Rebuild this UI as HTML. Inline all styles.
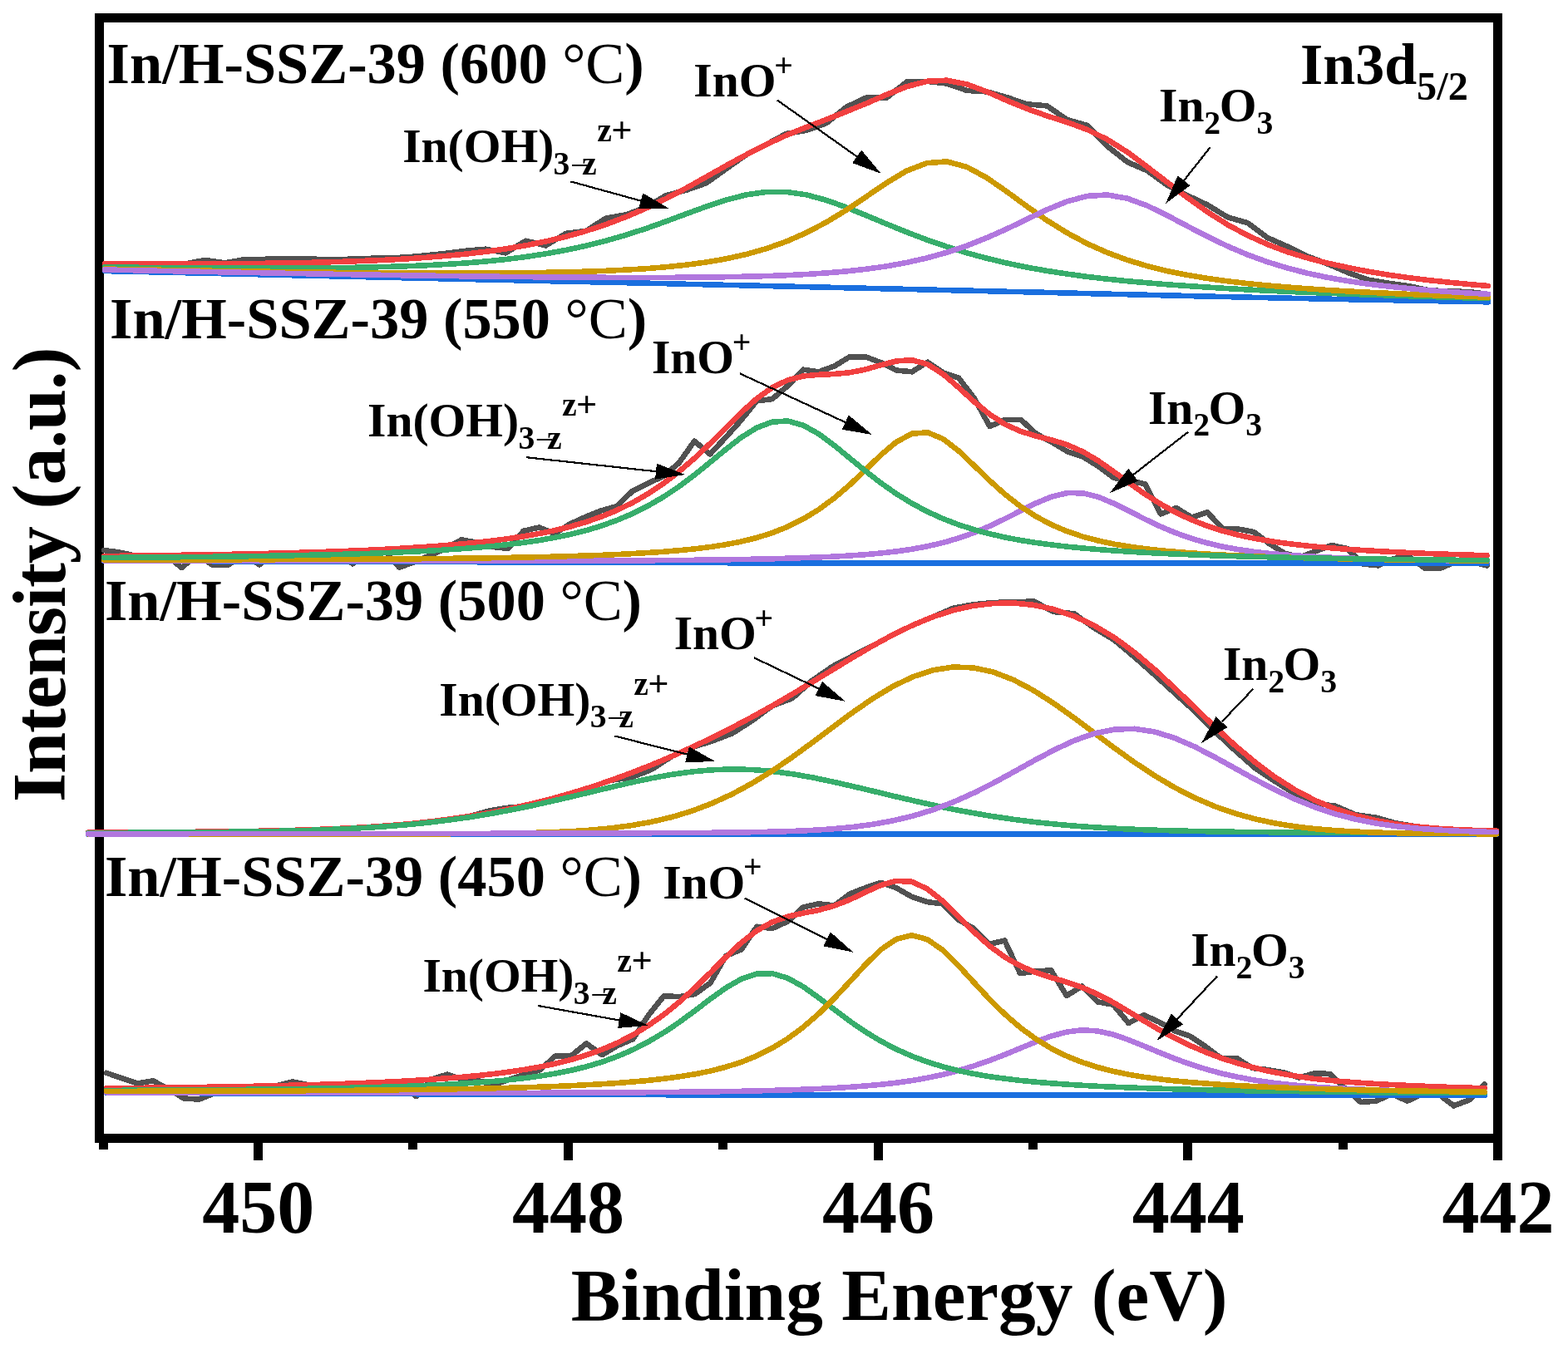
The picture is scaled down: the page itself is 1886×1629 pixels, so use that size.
<!DOCTYPE html>
<html><head><meta charset="utf-8"><title>In3d XPS</title>
<style>html,body{margin:0;padding:0;background:#fff}body{width:1886px;height:1629px;overflow:hidden}svg{display:block}</style>
</head><body>
<svg width="1886" height="1629" viewBox="0 0 1886 1629">
<rect x="0" y="0" width="1886" height="1629" fill="#fff"/>
<rect x="119.5" y="21.5" width="1682" height="1348" fill="none" stroke="#000" stroke-width="11"/>
<rect x="119" y="1369" width="11" height="14" fill="#000" shape-rendering="crispEdges"/>
<rect x="305" y="1369" width="11" height="27" fill="#000" shape-rendering="crispEdges"/>
<rect x="491" y="1369" width="11" height="14" fill="#000" shape-rendering="crispEdges"/>
<rect x="678" y="1369" width="11" height="27" fill="#000" shape-rendering="crispEdges"/>
<rect x="864" y="1369" width="11" height="14" fill="#000" shape-rendering="crispEdges"/>
<rect x="1051" y="1369" width="11" height="27" fill="#000" shape-rendering="crispEdges"/>
<rect x="1237" y="1369" width="11" height="14" fill="#000" shape-rendering="crispEdges"/>
<rect x="1423" y="1369" width="11" height="27" fill="#000" shape-rendering="crispEdges"/>
<rect x="1610" y="1369" width="11" height="14" fill="#000" shape-rendering="crispEdges"/>
<rect x="1796" y="1369" width="11" height="27" fill="#000" shape-rendering="crispEdges"/>
<path d="M126.0,317.4 L150.1,317.5 L174.2,317.6 L198.3,317.6 L222.5,317.5 L246.6,312.9 L270.7,316.3 L294.8,312.1 L318.9,311.8 L343.0,311.5 L367.2,311.0 L391.3,312.4 L415.4,311.9 L439.5,311.0 L463.6,310.3 L487.7,309.6 L511.9,307.4 L536.0,304.8 L560.1,301.8 L584.2,299.7 L608.3,304.4 L632.4,289.7 L656.6,295.4 L680.7,280.9 L704.8,277.9 L728.9,262.5 L753.0,258.4 L777.1,249.3 L801.2,235.1 L825.4,228.8 L849.5,220.3 L873.6,203.0 L897.7,186.1 L921.8,173.7 L945.9,160.8 L970.1,156.8 L994.2,148.1 L1018.3,128.6 L1042.4,117.3 L1066.5,117.6 L1090.6,98.6 L1114.8,97.8 L1138.9,100.5 L1163.0,108.9 L1187.1,110.4 L1211.2,117.2 L1235.3,125.3 L1259.4,127.4 L1283.6,144.1 L1307.7,150.9 L1331.8,175.8 L1355.9,194.9 L1380.0,205.4 L1404.1,222.9 L1428.3,235.3 L1452.4,246.5 L1476.5,261.3 L1500.6,268.2 L1524.7,286.1 L1548.8,296.7 L1573.0,308.5 L1597.1,317.6 L1621.2,327.9 L1645.3,336.6 L1669.4,340.6 L1693.5,344.0 L1717.7,349.0 L1741.8,350.6 L1765.9,350.9 L1790.0,354.0" fill="none" stroke="#515151" stroke-width="6.6" stroke-linejoin="round" stroke-linecap="round" shape-rendering="crispEdges"/>
<path d="M126.0,317.4 L150.1,317.5 L174.2,317.6 L198.3,317.6 L222.5,317.5 L246.6,317.5 L270.7,317.3 L294.8,317.1 L318.9,316.8 L343.0,316.5 L367.2,316.0 L391.3,315.4 L415.4,314.7 L439.5,313.8 L463.6,312.8 L487.7,311.5 L511.9,309.9 L536.0,307.9 L560.1,305.6 L584.2,302.8 L608.3,299.4 L632.4,295.3 L656.6,290.4 L680.7,284.7 L704.8,277.9 L728.9,270.0 L753.0,260.9 L777.1,250.5 L801.2,238.9 L825.4,226.3 L849.5,212.8 L873.6,199.2 L897.7,186.1 L921.8,173.7 L945.9,162.7 L970.1,153.0 L994.2,143.7 L1018.3,134.1 L1042.4,124.3 L1066.5,113.8 L1090.6,104.2 L1114.8,97.8 L1138.9,96.7 L1163.0,101.4 L1187.1,110.4 L1211.2,121.0 L1235.3,130.9 L1259.4,139.4 L1283.6,147.1 L1307.7,155.9 L1331.8,167.8 L1355.9,182.9 L1380.0,200.9 L1404.1,219.4 L1428.3,237.8 L1452.4,255.0 L1476.5,270.3 L1500.6,283.2 L1524.7,294.1 L1548.8,303.2 L1573.0,310.5 L1597.1,316.6 L1621.2,321.9 L1645.3,326.6 L1669.4,330.6 L1693.5,334.0 L1717.7,337.0 L1741.8,339.6 L1765.9,341.9 L1790.0,344.0" fill="none" stroke="#F14040" stroke-width="6.6" stroke-linejoin="round" stroke-linecap="round" shape-rendering="crispEdges"/>
<path d="M126.0,326.0 L150.1,326.6 L174.2,327.1 L198.3,327.7 L222.5,328.2 L246.6,328.8 L270.7,329.3 L294.8,329.9 L318.9,330.4 L343.0,331.0 L367.2,331.6 L391.3,332.1 L415.4,332.7 L439.5,333.2 L463.6,333.8 L487.7,334.3 L511.9,334.9 L536.0,335.4 L560.1,335.9 L584.2,336.5 L608.3,337.0 L632.4,337.5 L656.6,338.1 L680.7,338.6 L704.8,339.1 L728.9,339.6 L753.0,340.2 L777.1,340.7 L801.2,341.2 L825.4,341.8 L849.5,342.3 L873.6,342.9 L897.7,343.4 L921.8,344.0 L945.9,344.6 L970.1,345.1 L994.2,345.7 L1018.3,346.3 L1042.4,346.8 L1066.5,347.4 L1090.6,347.9 L1114.8,348.5 L1138.9,349.1 L1163.0,349.6 L1187.1,350.2 L1211.2,350.8 L1235.3,351.3 L1259.4,351.9 L1283.6,352.5 L1307.7,353.1 L1331.8,353.7 L1355.9,354.2 L1380.0,354.8 L1404.1,355.4 L1428.3,356.0 L1452.4,356.6 L1476.5,357.1 L1500.6,357.7 L1524.7,358.2 L1548.8,358.7 L1573.0,359.2 L1597.1,359.7 L1621.2,360.2 L1645.3,360.6 L1669.4,361.1 L1693.5,361.5 L1717.7,362.0 L1741.8,362.4 L1765.9,362.9 L1790.0,363.3" fill="none" stroke="#1A6FDF" stroke-width="6.6" stroke-linejoin="round" stroke-linecap="round" shape-rendering="crispEdges"/>
<path d="M126.0,321.3 L150.1,321.6 L174.2,321.9 L198.3,322.1 L222.5,322.3 L246.6,322.5 L270.7,322.6 L294.8,322.7 L318.9,322.7 L343.0,322.6 L367.2,322.5 L391.3,322.3 L415.4,322.0 L439.5,321.6 L463.6,321.0 L487.7,320.3 L511.9,319.3 L536.0,318.0 L560.1,316.5 L584.2,314.5 L608.3,312.0 L632.4,309.0 L656.6,305.3 L680.7,300.9 L704.8,295.7 L728.9,289.7 L753.0,282.7 L777.1,274.9 L801.2,266.3 L825.4,257.3 L849.5,248.5 L873.6,240.5 L897.7,234.3 L921.8,230.9 L945.9,230.9 L970.1,234.4 L994.2,240.9 L1018.3,249.6 L1042.4,259.4 L1066.5,269.5 L1090.6,279.3 L1114.8,288.5 L1138.9,296.8 L1163.0,304.3 L1187.1,310.8 L1211.2,316.6 L1235.3,321.6 L1259.4,325.9 L1283.6,329.6 L1307.7,332.9 L1331.8,335.7 L1355.9,338.2 L1380.0,340.3 L1404.1,342.3 L1428.3,344.0 L1452.4,345.6 L1476.5,347.1 L1500.6,348.5 L1524.7,349.7 L1548.8,350.8 L1573.0,351.8 L1597.1,352.8 L1621.2,353.7 L1645.3,354.6 L1669.4,355.4 L1693.5,356.2 L1717.7,356.9 L1741.8,357.7 L1765.9,358.4 L1790.0,359.0" fill="none" stroke="#37AD6B" stroke-width="6.6" stroke-linejoin="round" stroke-linecap="round" shape-rendering="crispEdges"/>
<path d="M126.0,323.6 L150.1,324.0 L174.2,324.4 L198.3,324.9 L222.5,325.3 L246.6,325.7 L270.7,326.0 L294.8,326.4 L318.9,326.7 L343.0,327.1 L367.2,327.4 L391.3,327.7 L415.4,327.9 L439.5,328.2 L463.6,328.4 L487.7,328.5 L511.9,328.6 L536.0,328.7 L560.1,328.7 L584.2,328.6 L608.3,328.4 L632.4,328.2 L656.6,327.8 L680.7,327.3 L704.8,326.7 L728.9,325.8 L753.0,324.6 L777.1,323.2 L801.2,321.2 L825.4,318.7 L849.5,315.5 L873.6,311.3 L897.7,305.9 L921.8,299.1 L945.9,290.5 L970.1,279.9 L994.2,267.2 L1018.3,252.5 L1042.4,236.3 L1066.5,219.9 L1090.6,205.5 L1114.8,196.2 L1138.9,194.4 L1163.0,200.9 L1187.1,214.0 L1211.2,230.7 L1235.3,248.4 L1259.4,265.2 L1283.6,280.2 L1307.7,293.1 L1331.8,303.9 L1355.9,312.8 L1380.0,320.1 L1404.1,326.1 L1428.3,330.9 L1452.4,335.0 L1476.5,338.3 L1500.6,341.1 L1524.7,343.5 L1548.8,345.5 L1573.0,347.3 L1597.1,349.0 L1621.2,350.4 L1645.3,351.7 L1669.4,352.8 L1693.5,353.9 L1717.7,355.0 L1741.8,355.9 L1765.9,356.8 L1790.0,357.7" fill="none" stroke="#CC9900" stroke-width="6.6" stroke-linejoin="round" stroke-linecap="round" shape-rendering="crispEdges"/>
<path d="M126.0,324.5 L150.1,325.0 L174.2,325.5 L198.3,326.0 L222.5,326.5 L246.6,326.9 L270.7,327.4 L294.8,327.9 L318.9,328.3 L343.0,328.8 L367.2,329.2 L391.3,329.6 L415.4,330.1 L439.5,330.5 L463.6,330.9 L487.7,331.3 L511.9,331.6 L536.0,332.0 L560.1,332.3 L584.2,332.6 L608.3,332.9 L632.4,333.1 L656.6,333.4 L680.7,333.6 L704.8,333.7 L728.9,333.8 L753.0,333.9 L777.1,333.9 L801.2,333.9 L825.4,333.7 L849.5,333.5 L873.6,333.2 L897.7,332.7 L921.8,332.1 L945.9,331.2 L970.1,330.0 L994.2,328.4 L1018.3,326.4 L1042.4,323.7 L1066.5,320.3 L1090.6,315.9 L1114.8,310.4 L1138.9,303.7 L1163.0,295.6 L1187.1,286.0 L1211.2,275.3 L1235.3,263.7 L1259.4,252.2 L1283.6,242.3 L1307.7,235.9 L1331.8,234.5 L1355.9,238.7 L1380.0,247.5 L1404.1,259.3 L1428.3,272.1 L1452.4,284.6 L1476.5,296.2 L1500.6,306.5 L1524.7,315.2 L1548.8,322.6 L1573.0,328.8 L1597.1,333.9 L1621.2,338.1 L1645.3,341.6 L1669.4,344.5 L1693.5,347.0 L1717.7,349.1 L1741.8,350.9 L1765.9,352.5 L1790.0,353.9" fill="none" stroke="#B177DE" stroke-width="6.6" stroke-linejoin="round" stroke-linecap="round" shape-rendering="crispEdges"/>
<path d="M125.0,662.0 L143.7,664.5 L162.4,668.6 L181.1,668.3 L199.8,668.1 L218.5,683.0 L237.2,667.5 L255.8,680.0 L274.5,679.8 L293.2,666.5 L311.9,679.4 L330.6,665.6 L349.3,665.1 L368.0,664.6 L386.7,664.0 L405.4,663.3 L424.1,678.3 L442.8,661.8 L461.5,660.9 L480.2,682.6 L498.8,676.0 L517.5,668.0 L536.2,660.0 L554.9,649.4 L573.6,652.6 L592.3,657.9 L611.0,660.0 L629.7,638.8 L648.4,634.5 L667.1,642.0 L685.8,630.3 L704.5,621.8 L723.1,614.4 L741.8,609.1 L760.5,591.0 L779.2,581.5 L797.9,573.0 L816.6,557.1 L835.3,530.6 L854.0,546.5 L872.7,526.4 L891.4,505.6 L910.1,482.3 L928.8,480.1 L947.5,464.2 L966.1,444.7 L984.8,447.3 L1003.5,440.5 L1022.2,429.2 L1040.9,429.2 L1059.6,436.2 L1078.3,445.6 L1097.0,447.3 L1115.7,435.6 L1134.4,448.3 L1153.1,454.7 L1171.8,479.1 L1190.5,513.0 L1209.1,504.8 L1227.8,504.8 L1246.5,522.0 L1265.2,532.0 L1283.9,543.2 L1302.6,549.5 L1321.3,561.2 L1340.0,575.0 L1358.7,578.2 L1377.4,582.4 L1396.1,618.5 L1414.8,611.0 L1433.4,622.5 L1452.1,616.3 L1470.8,636.2 L1489.5,636.5 L1508.2,640.0 L1526.9,654.2 L1545.6,666.0 L1564.3,670.0 L1583.0,663.0 L1601.7,656.0 L1620.4,660.0 L1639.1,678.5 L1657.8,680.4 L1676.4,672.0 L1695.1,669.8 L1713.8,683.6 L1732.5,683.6 L1751.2,676.0 L1769.9,676.0 L1788.6,680.4" fill="none" stroke="#515151" stroke-width="6.6" stroke-linejoin="round" stroke-linecap="round" shape-rendering="crispEdges"/>
<path d="M125.0,669.0 L143.7,668.8 L162.4,668.6 L181.1,668.3 L199.8,668.1 L218.5,667.8 L237.2,667.5 L255.8,667.2 L274.5,666.9 L293.2,666.5 L311.9,666.1 L330.6,665.6 L349.3,665.1 L368.0,664.6 L386.7,664.0 L405.4,663.3 L424.1,662.6 L442.8,661.8 L461.5,660.9 L480.2,659.9 L498.8,658.7 L517.5,657.5 L536.2,656.1 L554.9,654.5 L573.6,652.6 L592.3,650.6 L611.0,648.1 L629.7,645.3 L648.4,642.0 L667.1,638.2 L685.8,633.6 L704.5,628.1 L723.1,621.7 L741.8,614.0 L760.5,604.9 L779.2,594.2 L797.9,581.8 L816.6,567.5 L835.3,551.4 L854.0,533.7 L872.7,515.0 L891.4,496.5 L910.1,479.7 L928.8,466.3 L947.5,457.3 L966.1,452.5 L984.8,450.8 L1003.5,450.0 L1022.2,448.2 L1040.9,444.5 L1059.6,439.2 L1078.3,434.4 L1097.0,433.2 L1115.7,438.3 L1134.4,450.1 L1153.1,466.3 L1171.8,483.4 L1190.5,498.6 L1209.1,510.6 L1227.8,519.0 L1246.5,524.7 L1265.2,529.4 L1283.9,535.2 L1302.6,543.5 L1321.3,554.6 L1340.0,567.8 L1358.7,581.5 L1377.4,594.6 L1396.1,606.5 L1414.8,616.8 L1433.4,625.5 L1452.1,632.8 L1470.8,638.8 L1489.5,643.7 L1508.2,647.7 L1526.9,650.9 L1545.6,653.6 L1564.3,655.8 L1583.0,657.7 L1601.7,659.4 L1620.4,660.8 L1639.1,662.0 L1657.8,663.1 L1676.4,664.1 L1695.1,665.0 L1713.8,665.8 L1732.5,666.5 L1751.2,667.1 L1769.9,667.7 L1788.6,668.3" fill="none" stroke="#F14040" stroke-width="6.6" stroke-linejoin="round" stroke-linecap="round" shape-rendering="crispEdges"/>
<path d="M125.0,674.8 L143.7,674.9 L162.4,674.9 L181.1,675.0 L199.8,675.0 L218.5,675.1 L237.2,675.2 L255.8,675.2 L274.5,675.3 L293.2,675.3 L311.9,675.4 L330.6,675.5 L349.3,675.5 L368.0,675.6 L386.7,675.6 L405.4,675.7 L424.1,675.7 L442.8,675.8 L461.5,675.9 L480.2,675.9 L498.8,676.0 L517.5,676.0 L536.2,676.1 L554.9,676.2 L573.6,676.2 L592.3,676.3 L611.0,676.3 L629.7,676.4 L648.4,676.5 L667.1,676.5 L685.8,676.6 L704.5,676.6 L723.1,676.7 L741.8,676.8 L760.5,676.8 L779.2,676.9 L797.9,677.0 L816.6,677.0 L835.3,677.1 L854.0,677.1 L872.7,677.2 L891.4,677.3 L910.1,677.3 L928.8,677.3 L947.5,677.3 L966.1,677.3 L984.8,677.4 L1003.5,677.4 L1022.2,677.4 L1040.9,677.4 L1059.6,677.4 L1078.3,677.4 L1097.0,677.4 L1115.7,677.4 L1134.4,677.5 L1153.1,677.5 L1171.8,677.5 L1190.5,677.5 L1209.1,677.5 L1227.8,677.5 L1246.5,677.5 L1265.2,677.5 L1283.9,677.5 L1302.6,677.5 L1321.3,677.5 L1340.0,677.5 L1358.7,677.6 L1377.4,677.6 L1396.1,677.6 L1414.8,677.6 L1433.4,677.6 L1452.1,677.6 L1470.8,677.6 L1489.5,677.6 L1508.2,677.6 L1526.9,677.6 L1545.6,677.6 L1564.3,677.6 L1583.0,677.6 L1601.7,677.6 L1620.4,677.6 L1639.1,677.6 L1657.8,677.7 L1676.4,677.7 L1695.1,677.7 L1713.8,677.7 L1732.5,677.7 L1751.2,677.7 L1769.9,677.7 L1788.6,677.7" fill="none" stroke="#1A6FDF" stroke-width="6.6" stroke-linejoin="round" stroke-linecap="round" shape-rendering="crispEdges"/>
<path d="M125.0,674.3 L143.7,674.3 L162.4,674.4 L181.1,674.4 L199.8,674.4 L218.5,674.5 L237.2,674.5 L255.8,674.6 L274.5,674.6 L293.2,674.6 L311.9,674.6 L330.6,674.7 L349.3,674.7 L368.0,674.7 L386.7,674.8 L405.4,674.8 L424.1,674.8 L442.8,674.8 L461.5,674.8 L480.2,674.8 L498.8,674.8 L517.5,674.9 L536.2,674.9 L554.9,674.8 L573.6,674.8 L592.3,674.8 L611.0,674.8 L629.7,674.8 L648.4,674.8 L667.1,674.7 L685.8,674.7 L704.5,674.6 L723.1,674.5 L741.8,674.5 L760.5,674.4 L779.2,674.3 L797.9,674.1 L816.6,674.0 L835.3,673.8 L854.0,673.6 L872.7,673.3 L891.4,673.0 L910.1,672.7 L928.8,672.3 L947.5,671.7 L966.1,671.1 L984.8,670.4 L1003.5,669.6 L1022.2,668.5 L1040.9,667.2 L1059.6,665.5 L1078.3,663.4 L1097.0,660.7 L1115.7,657.2 L1134.4,652.9 L1153.1,647.4 L1171.8,640.8 L1190.5,632.9 L1209.1,624.0 L1227.8,614.5 L1246.5,605.2 L1265.2,597.5 L1283.9,593.1 L1302.6,593.3 L1321.3,598.0 L1340.0,605.8 L1358.7,615.2 L1377.4,624.7 L1396.1,633.6 L1414.8,641.4 L1433.4,647.9 L1452.1,653.3 L1470.8,657.7 L1489.5,661.1 L1508.2,663.8 L1526.9,665.9 L1545.6,667.5 L1564.3,668.8 L1583.0,669.9 L1601.7,670.8 L1620.4,671.5 L1639.1,672.1 L1657.8,672.6 L1676.4,673.1 L1695.1,673.5 L1713.8,673.8 L1732.5,674.1 L1751.2,674.4 L1769.9,674.7 L1788.6,674.9" fill="none" stroke="#B177DE" stroke-width="6.6" stroke-linejoin="round" stroke-linecap="round" shape-rendering="crispEdges"/>
<path d="M125.0,673.4 L143.7,673.4 L162.4,673.4 L181.1,673.4 L199.8,673.4 L218.5,673.3 L237.2,673.3 L255.8,673.3 L274.5,673.3 L293.2,673.2 L311.9,673.2 L330.6,673.2 L349.3,673.1 L368.0,673.0 L386.7,673.0 L405.4,672.9 L424.1,672.8 L442.8,672.7 L461.5,672.6 L480.2,672.4 L498.8,672.3 L517.5,672.1 L536.2,671.9 L554.9,671.7 L573.6,671.5 L592.3,671.2 L611.0,670.9 L629.7,670.5 L648.4,670.1 L667.1,669.7 L685.8,669.1 L704.5,668.5 L723.1,667.9 L741.8,667.1 L760.5,666.1 L779.2,665.0 L797.9,663.8 L816.6,662.2 L835.3,660.4 L854.0,658.1 L872.7,655.2 L891.4,651.6 L910.1,647.0 L928.8,641.1 L947.5,633.7 L966.1,624.4 L984.8,613.0 L1003.5,599.2 L1022.2,583.2 L1040.9,565.4 L1059.6,547.3 L1078.3,531.6 L1097.0,521.7 L1115.7,520.3 L1134.4,528.1 L1153.1,542.5 L1171.8,560.3 L1190.5,578.3 L1209.1,595.0 L1227.8,609.5 L1246.5,621.6 L1265.2,631.4 L1283.9,639.4 L1302.6,645.7 L1321.3,650.6 L1340.0,654.6 L1358.7,657.7 L1377.4,660.2 L1396.1,662.3 L1414.8,663.9 L1433.4,665.4 L1452.1,666.6 L1470.8,667.6 L1489.5,668.5 L1508.2,669.3 L1526.9,670.0 L1545.6,670.6 L1564.3,671.1 L1583.0,671.6 L1601.7,672.1 L1620.4,672.4 L1639.1,672.8 L1657.8,673.1 L1676.4,673.4 L1695.1,673.7 L1713.8,673.9 L1732.5,674.1 L1751.2,674.3 L1769.9,674.5 L1788.6,674.7" fill="none" stroke="#CC9900" stroke-width="6.6" stroke-linejoin="round" stroke-linecap="round" shape-rendering="crispEdges"/>
<path d="M125.0,670.9 L143.7,670.8 L162.4,670.7 L181.1,670.5 L199.8,670.4 L218.5,670.2 L237.2,670.0 L255.8,669.8 L274.5,669.5 L293.2,669.3 L311.9,669.0 L330.6,668.7 L349.3,668.3 L368.0,667.9 L386.7,667.5 L405.4,667.0 L424.1,666.5 L442.8,665.9 L461.5,665.2 L480.2,664.4 L498.8,663.6 L517.5,662.6 L536.2,661.5 L554.9,660.2 L573.6,658.8 L592.3,657.1 L611.0,655.1 L629.7,652.8 L648.4,650.1 L667.1,646.8 L685.8,642.9 L704.5,638.3 L723.1,632.7 L741.8,626.0 L760.5,618.1 L779.2,608.7 L797.9,597.9 L816.6,585.4 L835.3,571.4 L854.0,556.3 L872.7,540.9 L891.4,526.4 L910.1,514.7 L928.8,507.6 L947.5,506.5 L966.1,511.7 L984.8,522.1 L1003.5,535.9 L1022.2,551.3 L1040.9,566.6 L1059.6,581.1 L1078.3,594.2 L1097.0,605.7 L1115.7,615.7 L1134.4,624.1 L1153.1,631.3 L1171.8,637.3 L1190.5,642.3 L1209.1,646.5 L1227.8,650.1 L1246.5,653.0 L1265.2,655.5 L1283.9,657.7 L1302.6,659.5 L1321.3,661.1 L1340.0,662.5 L1358.7,663.7 L1377.4,664.8 L1396.1,665.8 L1414.8,666.6 L1433.4,667.4 L1452.1,668.1 L1470.8,668.7 L1489.5,669.3 L1508.2,669.8 L1526.9,670.3 L1545.6,670.7 L1564.3,671.1 L1583.0,671.5 L1601.7,671.8 L1620.4,672.1 L1639.1,672.4 L1657.8,672.7 L1676.4,672.9 L1695.1,673.1 L1713.8,673.4 L1732.5,673.6 L1751.2,673.8 L1769.9,673.9 L1788.6,674.1" fill="none" stroke="#37AD6B" stroke-width="6.6" stroke-linejoin="round" stroke-linecap="round" shape-rendering="crispEdges"/>
<path d="M106.0,1001.6 L130.2,1001.5 L154.4,1001.4 L178.6,1001.2 L202.8,1001.1 L227.0,1000.9 L251.2,1000.6 L275.4,1000.4 L299.6,1000.0 L323.8,999.6 L348.0,999.0 L372.2,998.3 L396.4,997.4 L420.6,996.3 L444.8,994.9 L469.0,993.2 L493.2,991.1 L517.4,988.5 L541.6,985.4 L565.8,981.8 L590.0,975.1 L614.2,971.3 L638.4,969.8 L662.6,961.2 L686.8,954.4 L711.0,946.9 L735.2,938.7 L759.4,935.3 L783.6,925.8 L807.8,910.1 L832.0,899.2 L856.2,891.7 L880.4,882.5 L904.6,867.1 L928.8,849.2 L953.0,840.1 L977.2,818.5 L1001.4,801.8 L1025.6,789.1 L1049.8,776.9 L1074.0,763.7 L1098.2,752.0 L1122.4,742.0 L1146.6,731.7 L1170.8,727.3 L1195.0,724.9 L1219.2,724.5 L1243.4,723.4 L1267.6,736.1 L1291.8,738.2 L1316.0,755.5 L1340.2,770.0 L1364.4,790.3 L1388.6,811.8 L1412.8,833.8 L1437.0,855.7 L1461.2,880.0 L1485.4,902.7 L1509.6,924.0 L1533.8,940.1 L1558.0,955.5 L1582.2,966.7 L1606.4,969.8 L1630.6,980.2 L1654.8,983.6 L1679.0,990.4 L1703.2,994.4 L1727.4,996.6 L1751.6,998.0 L1775.8,999.0 L1800.0,999.7" fill="none" stroke="#515151" stroke-width="6.6" stroke-linejoin="round" stroke-linecap="round" shape-rendering="crispEdges"/>
<path d="M106.0,1001.6 L130.2,1001.5 L154.4,1001.4 L178.6,1001.2 L202.8,1001.1 L227.0,1000.9 L251.2,1000.6 L275.4,1000.4 L299.6,1000.0 L323.8,999.6 L348.0,999.0 L372.2,998.3 L396.4,997.4 L420.6,996.3 L444.8,994.9 L469.0,993.2 L493.2,991.1 L517.4,988.5 L541.6,985.4 L565.8,981.8 L590.0,977.6 L614.2,972.8 L638.4,967.3 L662.6,961.2 L686.8,954.4 L711.0,946.9 L735.2,938.7 L759.4,929.8 L783.6,920.3 L807.8,910.1 L832.0,899.2 L856.2,887.7 L880.4,875.5 L904.6,862.6 L928.8,849.2 L953.0,835.1 L977.2,820.5 L1001.4,805.8 L1025.6,791.1 L1049.8,776.9 L1074.0,763.7 L1098.2,752.0 L1122.4,742.0 L1146.6,734.2 L1170.8,728.8 L1195.0,725.9 L1219.2,725.5 L1243.4,727.9 L1267.6,733.1 L1291.8,741.2 L1316.0,752.5 L1340.2,767.0 L1364.4,784.8 L1388.6,805.3 L1412.8,827.8 L1437.0,851.2 L1461.2,874.5 L1485.4,896.7 L1509.6,917.0 L1533.8,935.1 L1558.0,950.5 L1582.2,963.2 L1606.4,973.3 L1630.6,981.2 L1654.8,987.1 L1679.0,991.4 L1703.2,994.4 L1727.4,996.6 L1751.6,998.0 L1775.8,999.0 L1800.0,999.7" fill="none" stroke="#F14040" stroke-width="6.6" stroke-linejoin="round" stroke-linecap="round" shape-rendering="crispEdges"/>
<path d="M106.0,1003.5 L130.2,1003.5 L154.4,1003.5 L178.6,1003.5 L202.8,1003.5 L227.0,1003.5 L251.2,1003.5 L275.4,1003.5 L299.6,1003.5 L323.8,1003.5 L348.0,1003.5 L372.2,1003.5 L396.4,1003.5 L420.6,1003.5 L444.8,1003.5 L469.0,1003.5 L493.2,1003.5 L517.4,1003.5 L541.6,1003.5 L565.8,1003.5 L590.0,1003.5 L614.2,1003.5 L638.4,1003.5 L662.6,1003.5 L686.8,1003.5 L711.0,1003.5 L735.2,1003.5 L759.4,1003.5 L783.6,1003.5 L807.8,1003.5 L832.0,1003.5 L856.2,1003.5 L880.4,1003.5 L904.6,1003.5 L928.8,1003.5 L953.0,1003.5 L977.2,1003.5 L1001.4,1003.5 L1025.6,1003.5 L1049.8,1003.5 L1074.0,1003.5 L1098.2,1003.5 L1122.4,1003.5 L1146.6,1003.5 L1170.8,1003.5 L1195.0,1003.5 L1219.2,1003.5 L1243.4,1003.5 L1267.6,1003.5 L1291.8,1003.5 L1316.0,1003.5 L1340.2,1003.5 L1364.4,1003.5 L1388.6,1003.5 L1412.8,1003.5 L1437.0,1003.5 L1461.2,1003.5 L1485.4,1003.5 L1509.6,1003.5 L1533.8,1003.5 L1558.0,1003.5 L1582.2,1003.5 L1606.4,1003.5 L1630.6,1003.5 L1654.8,1003.5 L1679.0,1003.5 L1703.2,1003.5 L1727.4,1003.5 L1751.6,1003.5 L1775.8,1003.5 L1800.0,1003.5" fill="none" stroke="#1A6FDF" stroke-width="6.6" stroke-linejoin="round" stroke-linecap="round" shape-rendering="crispEdges"/>
<path d="M106.0,1002.0 L130.2,1001.9 L154.4,1001.8 L178.6,1001.6 L202.8,1001.5 L227.0,1001.3 L251.2,1001.1 L275.4,1000.8 L299.6,1000.5 L323.8,1000.1 L348.0,999.5 L372.2,998.9 L396.4,998.0 L420.6,996.9 L444.8,995.6 L469.0,993.9 L493.2,991.9 L517.4,989.4 L541.6,986.4 L565.8,983.0 L590.0,979.0 L614.2,974.5 L638.4,969.6 L662.6,964.2 L686.8,958.6 L711.0,952.8 L735.2,947.0 L759.4,941.4 L783.6,936.3 L807.8,931.9 L832.0,928.5 L856.2,926.3 L880.4,925.4 L904.6,926.0 L928.8,928.0 L953.0,931.2 L977.2,935.4 L1001.4,940.5 L1025.6,946.0 L1049.8,951.7 L1074.0,957.6 L1098.2,963.2 L1122.4,968.6 L1146.6,973.7 L1170.8,978.2 L1195.0,982.3 L1219.2,985.8 L1243.4,988.9 L1267.6,991.4 L1291.8,993.6 L1316.0,995.3 L1340.2,996.7 L1364.4,997.8 L1388.6,998.7 L1412.8,999.4 L1437.0,1000.0 L1461.2,1000.4 L1485.4,1000.8 L1509.6,1001.0 L1533.8,1001.3 L1558.0,1001.4 L1582.2,1001.6 L1606.4,1001.7 L1630.6,1001.9 L1654.8,1002.0 L1679.0,1002.0 L1703.2,1002.1 L1727.4,1002.2 L1751.6,1002.3 L1775.8,1002.3 L1800.0,1002.4" fill="none" stroke="#37AD6B" stroke-width="6.6" stroke-linejoin="round" stroke-linecap="round" shape-rendering="crispEdges"/>
<path d="M106.0,1003.4 L130.2,1003.4 L154.4,1003.4 L178.6,1003.4 L202.8,1003.4 L227.0,1003.4 L251.2,1003.4 L275.4,1003.4 L299.6,1003.4 L323.8,1003.4 L348.0,1003.4 L372.2,1003.4 L396.4,1003.4 L420.6,1003.4 L444.8,1003.4 L469.0,1003.3 L493.2,1003.3 L517.4,1003.3 L541.6,1003.2 L565.8,1003.0 L590.0,1002.8 L614.2,1002.5 L638.4,1002.0 L662.6,1001.3 L686.8,1000.2 L711.0,998.6 L735.2,996.3 L759.4,993.1 L783.6,988.8 L807.8,983.1 L832.0,975.8 L856.2,966.6 L880.4,955.5 L904.6,942.4 L928.8,927.5 L953.0,910.9 L977.2,893.2 L1001.4,875.0 L1025.6,857.1 L1049.8,840.4 L1074.0,825.8 L1098.2,814.1 L1122.4,806.2 L1146.6,802.5 L1170.8,803.4 L1195.0,808.6 L1219.2,818.0 L1243.4,830.8 L1267.6,846.3 L1291.8,863.5 L1316.0,881.6 L1340.2,899.7 L1364.4,917.1 L1388.6,933.1 L1412.8,947.4 L1437.0,959.8 L1461.2,970.2 L1485.4,978.6 L1509.6,985.3 L1533.8,990.5 L1558.0,994.4 L1582.2,997.2 L1606.4,999.2 L1630.6,1000.6 L1654.8,1001.6 L1679.0,1002.2 L1703.2,1002.7 L1727.4,1002.9 L1751.6,1003.1 L1775.8,1003.2 L1800.0,1003.3" fill="none" stroke="#CC9900" stroke-width="6.6" stroke-linejoin="round" stroke-linecap="round" shape-rendering="crispEdges"/>
<path d="M106.0,1003.2 L130.2,1003.2 L154.4,1003.2 L178.6,1003.2 L202.8,1003.2 L227.0,1003.2 L251.2,1003.1 L275.4,1003.1 L299.6,1003.1 L323.8,1003.1 L348.0,1003.1 L372.2,1003.1 L396.4,1003.0 L420.6,1003.0 L444.8,1003.0 L469.0,1003.0 L493.2,1002.9 L517.4,1002.9 L541.6,1002.9 L565.8,1002.8 L590.0,1002.8 L614.2,1002.7 L638.4,1002.7 L662.6,1002.6 L686.8,1002.6 L711.0,1002.5 L735.2,1002.4 L759.4,1002.3 L783.6,1002.2 L807.8,1002.1 L832.0,1002.0 L856.2,1001.8 L880.4,1001.5 L904.6,1001.2 L928.8,1000.7 L953.0,1000.0 L977.2,998.9 L1001.4,997.3 L1025.6,995.0 L1049.8,991.8 L1074.0,987.4 L1098.2,981.6 L1122.4,974.2 L1146.6,965.0 L1170.8,954.2 L1195.0,942.0 L1219.2,928.8 L1243.4,915.3 L1267.6,902.4 L1291.8,891.1 L1316.0,882.5 L1340.2,877.6 L1364.4,876.8 L1388.6,880.4 L1412.8,887.9 L1437.0,898.4 L1461.2,910.9 L1485.4,924.3 L1509.6,937.7 L1533.8,950.3 L1558.0,961.6 L1582.2,971.4 L1606.4,979.4 L1630.6,985.7 L1654.8,990.5 L1679.0,994.1 L1703.2,996.6 L1727.4,998.4 L1751.6,999.7 L1775.8,1000.5 L1800.0,1001.1" fill="none" stroke="#B177DE" stroke-width="6.6" stroke-linejoin="round" stroke-linecap="round" shape-rendering="crispEdges"/>
<path d="M128.0,1290.8 L146.6,1297.2 L165.3,1303.5 L183.9,1300.3 L202.5,1310.0 L221.1,1321.5 L239.8,1322.6 L258.4,1315.0 L277.0,1307.3 L295.6,1307.0 L314.3,1306.6 L332.9,1306.2 L351.5,1301.4 L370.2,1305.2 L388.8,1304.7 L407.4,1304.1 L426.0,1303.4 L444.7,1302.6 L463.3,1301.8 L481.9,1300.9 L500.5,1319.0 L519.2,1298.6 L537.8,1292.6 L556.4,1299.0 L575.0,1300.0 L593.7,1305.3 L612.3,1299.0 L630.9,1292.6 L649.6,1287.3 L668.2,1270.3 L686.8,1270.3 L705.4,1255.4 L724.1,1269.2 L742.7,1258.0 L761.3,1250.1 L779.9,1221.5 L798.6,1198.2 L817.2,1199.2 L835.8,1196.1 L854.5,1182.5 L873.1,1150.0 L891.7,1142.4 L910.3,1114.8 L929.0,1117.0 L947.6,1108.5 L966.2,1091.5 L984.8,1087.3 L1003.5,1089.4 L1022.1,1075.6 L1040.7,1068.2 L1059.3,1061.8 L1078.0,1068.2 L1096.6,1078.8 L1115.2,1085.1 L1133.9,1087.3 L1152.5,1106.4 L1171.1,1117.0 L1189.7,1136.0 L1208.4,1131.5 L1227.0,1171.2 L1245.6,1168.6 L1264.2,1167.3 L1282.9,1198.0 L1301.5,1186.4 L1320.1,1205.4 L1338.8,1208.6 L1357.4,1230.9 L1376.0,1221.3 L1394.6,1229.8 L1413.3,1240.4 L1431.9,1246.8 L1450.5,1259.5 L1469.1,1273.3 L1487.8,1273.3 L1506.4,1285.0 L1525.0,1287.1 L1543.6,1290.3 L1562.3,1296.6 L1580.9,1291.3 L1599.5,1292.0 L1618.2,1309.8 L1636.8,1326.0 L1655.4,1324.7 L1674.0,1316.0 L1692.7,1324.7 L1711.3,1316.0 L1729.9,1316.0 L1748.5,1330.4 L1767.2,1323.4 L1785.8,1304.4" fill="none" stroke="#515151" stroke-width="6.6" stroke-linejoin="round" stroke-linecap="round" shape-rendering="crispEdges"/>
<path d="M128.0,1309.2 L146.6,1309.1 L165.3,1308.9 L183.9,1308.7 L202.5,1308.5 L221.1,1308.2 L239.8,1307.9 L258.4,1307.7 L277.0,1307.3 L295.6,1307.0 L314.3,1306.6 L332.9,1306.2 L351.5,1305.7 L370.2,1305.2 L388.8,1304.7 L407.4,1304.1 L426.0,1303.4 L444.7,1302.6 L463.3,1301.8 L481.9,1300.9 L500.5,1299.8 L519.2,1298.6 L537.8,1297.3 L556.4,1295.8 L575.0,1294.0 L593.7,1292.0 L612.3,1289.6 L630.9,1286.8 L649.6,1283.5 L668.2,1279.6 L686.8,1274.9 L705.4,1269.3 L724.1,1262.7 L742.7,1254.7 L761.3,1245.1 L779.9,1233.8 L798.6,1220.6 L817.2,1205.5 L835.8,1188.6 L854.5,1170.2 L873.1,1151.5 L891.7,1134.1 L910.3,1119.7 L929.0,1109.3 L947.6,1102.7 L966.2,1098.6 L984.8,1094.9 L1003.5,1089.7 L1022.1,1082.4 L1040.7,1073.5 L1059.3,1065.0 L1078.0,1059.8 L1096.6,1060.8 L1115.2,1069.3 L1133.9,1084.1 L1152.5,1102.3 L1171.1,1120.8 L1189.7,1137.6 L1208.4,1151.4 L1227.0,1162.0 L1245.6,1169.9 L1264.2,1176.0 L1282.9,1181.5 L1301.5,1188.0 L1320.1,1196.1 L1338.8,1205.9 L1357.4,1216.9 L1376.0,1228.2 L1394.6,1239.1 L1413.3,1249.1 L1431.9,1258.1 L1450.5,1266.0 L1469.1,1273.0 L1487.8,1279.0 L1506.4,1284.1 L1525.0,1288.5 L1543.6,1292.1 L1562.3,1295.2 L1580.9,1297.9 L1599.5,1299.8 L1618.2,1301.4 L1636.8,1302.8 L1655.4,1304.0 L1674.0,1305.0 L1692.7,1305.9 L1711.3,1306.7 L1729.9,1307.5 L1748.5,1308.1 L1767.2,1308.7 L1785.8,1309.2" fill="none" stroke="#F14040" stroke-width="6.6" stroke-linejoin="round" stroke-linecap="round" shape-rendering="crispEdges"/>
<path d="M128.0,1314.8 L146.6,1314.9 L165.3,1315.0 L183.9,1315.0 L202.5,1315.1 L221.1,1315.2 L239.8,1315.2 L258.4,1315.3 L277.0,1315.4 L295.6,1315.4 L314.3,1315.5 L332.9,1315.6 L351.5,1315.7 L370.2,1315.7 L388.8,1315.8 L407.4,1315.9 L426.0,1315.9 L444.7,1316.0 L463.3,1316.1 L481.9,1316.2 L500.5,1316.2 L519.2,1316.3 L537.8,1316.4 L556.4,1316.4 L575.0,1316.5 L593.7,1316.6 L612.3,1316.6 L630.9,1316.7 L649.6,1316.7 L668.2,1316.8 L686.8,1316.9 L705.4,1316.9 L724.1,1317.0 L742.7,1317.0 L761.3,1317.1 L779.9,1317.1 L798.6,1317.2 L817.2,1317.3 L835.8,1317.3 L854.5,1317.4 L873.1,1317.4 L891.7,1317.5 L910.3,1317.5 L929.0,1317.5 L947.6,1317.5 L966.2,1317.5 L984.8,1317.5 L1003.5,1317.5 L1022.1,1317.5 L1040.7,1317.5 L1059.3,1317.5 L1078.0,1317.5 L1096.6,1317.5 L1115.2,1317.5 L1133.9,1317.6 L1152.5,1317.6 L1171.1,1317.6 L1189.7,1317.6 L1208.4,1317.6 L1227.0,1317.6 L1245.6,1317.6 L1264.2,1317.6 L1282.9,1317.6 L1301.5,1317.6 L1320.1,1317.6 L1338.8,1317.6 L1357.4,1317.6 L1376.0,1317.6 L1394.6,1317.6 L1413.3,1317.6 L1431.9,1317.6 L1450.5,1317.6 L1469.1,1317.6 L1487.8,1317.6 L1506.4,1317.6 L1525.0,1317.6 L1543.6,1317.6 L1562.3,1317.6 L1580.9,1317.7 L1599.5,1317.7 L1618.2,1317.7 L1636.8,1317.7 L1655.4,1317.7 L1674.0,1317.7 L1692.7,1317.7 L1711.3,1317.7 L1729.9,1317.7 L1748.5,1317.7 L1767.2,1317.7 L1785.8,1317.7" fill="none" stroke="#1A6FDF" stroke-width="6.6" stroke-linejoin="round" stroke-linecap="round" shape-rendering="crispEdges"/>
<path d="M128.0,1314.2 L146.6,1314.2 L165.3,1314.3 L183.9,1314.3 L202.5,1314.4 L221.1,1314.4 L239.8,1314.5 L258.4,1314.5 L277.0,1314.6 L295.6,1314.6 L314.3,1314.6 L332.9,1314.7 L351.5,1314.7 L370.2,1314.8 L388.8,1314.8 L407.4,1314.8 L426.0,1314.8 L444.7,1314.9 L463.3,1314.9 L481.9,1314.9 L500.5,1314.9 L519.2,1314.9 L537.8,1314.9 L556.4,1314.9 L575.0,1314.9 L593.7,1314.9 L612.3,1314.9 L630.9,1314.8 L649.6,1314.8 L668.2,1314.7 L686.8,1314.7 L705.4,1314.6 L724.1,1314.5 L742.7,1314.4 L761.3,1314.3 L779.9,1314.2 L798.6,1314.0 L817.2,1313.8 L835.8,1313.6 L854.5,1313.4 L873.1,1313.1 L891.7,1312.8 L910.3,1312.4 L929.0,1311.9 L947.6,1311.4 L966.2,1310.7 L984.8,1310.0 L1003.5,1309.0 L1022.1,1307.9 L1040.7,1306.5 L1059.3,1304.8 L1078.0,1302.7 L1096.6,1300.1 L1115.2,1296.8 L1133.9,1292.9 L1152.5,1288.1 L1171.1,1282.5 L1189.7,1276.1 L1208.4,1268.9 L1227.0,1261.2 L1245.6,1253.5 L1264.2,1246.6 L1282.9,1241.6 L1301.5,1239.3 L1320.1,1240.4 L1338.8,1244.6 L1357.4,1251.0 L1376.0,1258.5 L1394.6,1266.3 L1413.3,1273.7 L1431.9,1280.4 L1450.5,1286.3 L1469.1,1291.4 L1487.8,1295.6 L1506.4,1299.1 L1525.0,1301.9 L1543.6,1304.2 L1562.3,1306.1 L1580.9,1307.6 L1599.5,1308.8 L1618.2,1309.8 L1636.8,1310.6 L1655.4,1311.3 L1674.0,1311.9 L1692.7,1312.4 L1711.3,1312.9 L1729.9,1313.2 L1748.5,1313.6 L1767.2,1313.9 L1785.8,1314.2" fill="none" stroke="#B177DE" stroke-width="6.6" stroke-linejoin="round" stroke-linecap="round" shape-rendering="crispEdges"/>
<path d="M128.0,1311.9 L146.6,1311.8 L165.3,1311.7 L183.9,1311.6 L202.5,1311.5 L221.1,1311.4 L239.8,1311.3 L258.4,1311.1 L277.0,1311.0 L295.6,1310.8 L314.3,1310.6 L332.9,1310.4 L351.5,1310.1 L370.2,1309.8 L388.8,1309.5 L407.4,1309.1 L426.0,1308.7 L444.7,1308.2 L463.3,1307.7 L481.9,1307.1 L500.5,1306.4 L519.2,1305.6 L537.8,1304.7 L556.4,1303.6 L575.0,1302.4 L593.7,1300.9 L612.3,1299.2 L630.9,1297.1 L649.6,1294.6 L668.2,1291.5 L686.8,1287.8 L705.4,1283.2 L724.1,1277.7 L742.7,1270.9 L761.3,1262.9 L779.9,1253.3 L798.6,1242.2 L817.2,1229.7 L835.8,1216.0 L854.5,1201.8 L873.1,1188.5 L891.7,1177.8 L910.3,1171.6 L929.0,1171.2 L947.6,1176.8 L966.2,1187.2 L984.8,1200.4 L1003.5,1214.6 L1022.1,1228.5 L1040.7,1241.2 L1059.3,1252.5 L1078.0,1262.3 L1096.6,1270.6 L1115.2,1277.5 L1133.9,1283.3 L1152.5,1288.0 L1171.1,1291.9 L1189.7,1295.1 L1208.4,1297.7 L1227.0,1299.9 L1245.6,1301.7 L1264.2,1303.3 L1282.9,1304.6 L1301.5,1305.8 L1320.1,1306.8 L1338.8,1307.7 L1357.4,1308.4 L1376.0,1309.1 L1394.6,1309.7 L1413.3,1310.3 L1431.9,1310.8 L1450.5,1311.2 L1469.1,1311.7 L1487.8,1312.0 L1506.4,1312.4 L1525.0,1312.7 L1543.6,1313.0 L1562.3,1313.2 L1580.9,1313.5 L1599.5,1313.7 L1618.2,1313.9 L1636.8,1314.1 L1655.4,1314.3 L1674.0,1314.4 L1692.7,1314.6 L1711.3,1314.7 L1729.9,1314.9 L1748.5,1315.0 L1767.2,1315.1 L1785.8,1315.2" fill="none" stroke="#37AD6B" stroke-width="6.6" stroke-linejoin="round" stroke-linecap="round" shape-rendering="crispEdges"/>
<path d="M128.0,1312.8 L146.6,1312.8 L165.3,1312.8 L183.9,1312.7 L202.5,1312.7 L221.1,1312.7 L239.8,1312.6 L258.4,1312.6 L277.0,1312.6 L295.6,1312.5 L314.3,1312.4 L332.9,1312.3 L351.5,1312.3 L370.2,1312.2 L388.8,1312.0 L407.4,1311.9 L426.0,1311.8 L444.7,1311.6 L463.3,1311.4 L481.9,1311.2 L500.5,1311.0 L519.2,1310.7 L537.8,1310.4 L556.4,1310.1 L575.0,1309.7 L593.7,1309.3 L612.3,1308.8 L630.9,1308.3 L649.6,1307.7 L668.2,1307.0 L686.8,1306.2 L705.4,1305.2 L724.1,1304.2 L742.7,1303.0 L761.3,1301.5 L779.9,1299.9 L798.6,1297.8 L817.2,1295.3 L835.8,1292.3 L854.5,1288.5 L873.1,1283.7 L891.7,1277.8 L910.3,1270.3 L929.0,1260.9 L947.6,1249.5 L966.2,1235.7 L984.8,1219.6 L1003.5,1201.1 L1022.1,1181.1 L1040.7,1160.8 L1059.3,1142.7 L1078.0,1129.9 L1096.6,1125.2 L1115.2,1130.1 L1133.9,1143.1 L1152.5,1161.3 L1171.1,1181.6 L1189.7,1201.6 L1208.4,1220.0 L1227.0,1236.1 L1245.6,1249.8 L1264.2,1261.2 L1282.9,1270.5 L1301.5,1278.0 L1320.1,1284.0 L1338.8,1288.8 L1357.4,1292.7 L1376.0,1295.8 L1394.6,1298.3 L1413.3,1300.4 L1431.9,1302.1 L1450.5,1303.6 L1469.1,1304.9 L1487.8,1306.0 L1506.4,1307.0 L1525.0,1307.8 L1543.6,1308.6 L1562.3,1309.2 L1580.9,1309.8 L1599.5,1310.4 L1618.2,1310.9 L1636.8,1311.3 L1655.4,1311.7 L1674.0,1312.1 L1692.7,1312.4 L1711.3,1312.7 L1729.9,1313.0 L1748.5,1313.3 L1767.2,1313.5 L1785.8,1313.7" fill="none" stroke="#CC9900" stroke-width="6.6" stroke-linejoin="round" stroke-linecap="round" shape-rendering="crispEdges"/>
<line x1="686.5" y1="218.4" x2="770.8" y2="241.6" stroke="#000" stroke-width="2.2" shape-rendering="crispEdges"/><polygon points="805.0,251.0 768.3,250.7 773.3,232.4" fill="#000" shape-rendering="crispEdges"/>
<line x1="934.7" y1="120.4" x2="1030.7" y2="188.4" stroke="#000" stroke-width="2.2" shape-rendering="crispEdges"/><polygon points="1059.7,208.9 1025.2,196.1 1036.2,180.6" fill="#000" shape-rendering="crispEdges"/>
<line x1="1455.5" y1="177.4" x2="1424.0" y2="217.2" stroke="#000" stroke-width="2.2" shape-rendering="crispEdges"/><polygon points="1402.0,245.0 1416.6,211.3 1431.5,223.1" fill="#000" shape-rendering="crispEdges"/>
<line x1="633.0" y1="550.2" x2="789.0" y2="567.2" stroke="#000" stroke-width="2.2" shape-rendering="crispEdges"/><polygon points="824.3,571.0 788.0,576.6 790.0,557.7" fill="#000" shape-rendering="crispEdges"/>
<line x1="890.0" y1="449.4" x2="1016.8" y2="508.1" stroke="#000" stroke-width="2.2" shape-rendering="crispEdges"/><polygon points="1049.0,523.0 1012.8,516.7 1020.8,499.5" fill="#000" shape-rendering="crispEdges"/>
<line x1="1429.0" y1="519.8" x2="1363.0" y2="571.2" stroke="#000" stroke-width="2.2" shape-rendering="crispEdges"/><polygon points="1335.0,593.0 1357.2,563.7 1368.8,578.7" fill="#000" shape-rendering="crispEdges"/>
<line x1="739.4" y1="885.5" x2="826.5" y2="907.6" stroke="#000" stroke-width="2.2" shape-rendering="crispEdges"/><polygon points="860.9,916.3 824.2,916.8 828.8,898.4" fill="#000" shape-rendering="crispEdges"/>
<line x1="907.0" y1="791.3" x2="984.8" y2="828.5" stroke="#000" stroke-width="2.2" shape-rendering="crispEdges"/><polygon points="1016.8,843.8 980.7,837.1 988.9,819.9" fill="#000" shape-rendering="crispEdges"/>
<line x1="1507.4" y1="828.8" x2="1469.5" y2="868.5" stroke="#000" stroke-width="2.2" shape-rendering="crispEdges"/><polygon points="1445.0,894.2 1462.6,862.0 1476.4,875.1" fill="#000" shape-rendering="crispEdges"/>
<line x1="647.2" y1="1210.0" x2="744.9" y2="1227.5" stroke="#000" stroke-width="2.2" shape-rendering="crispEdges"/><polygon points="779.8,1233.8 743.2,1236.9 746.5,1218.2" fill="#000" shape-rendering="crispEdges"/>
<line x1="895.9" y1="1080.5" x2="994.5" y2="1129.8" stroke="#000" stroke-width="2.2" shape-rendering="crispEdges"/><polygon points="1026.3,1145.7 990.3,1138.3 998.8,1121.3" fill="#000" shape-rendering="crispEdges"/>
<line x1="1463.8" y1="1174.7" x2="1415.8" y2="1226.1" stroke="#000" stroke-width="2.2" shape-rendering="crispEdges"/><polygon points="1391.6,1252.0 1408.9,1219.6 1422.8,1232.5" fill="#000" shape-rendering="crispEdges"/>
<text x="310.8" y="1483.3" font-size="90" font-family="'Liberation Serif',serif" font-weight="bold" text-anchor="middle" >450</text>
<text x="683.6" y="1483.3" font-size="90" font-family="'Liberation Serif',serif" font-weight="bold" text-anchor="middle" >448</text>
<text x="1056.4" y="1483.3" font-size="90" font-family="'Liberation Serif',serif" font-weight="bold" text-anchor="middle" >446</text>
<text x="1429.2" y="1483.3" font-size="90" font-family="'Liberation Serif',serif" font-weight="bold" text-anchor="middle" >444</text>
<text x="1802.0" y="1483.3" font-size="90" font-family="'Liberation Serif',serif" font-weight="bold" text-anchor="middle" >442</text>
<text x="1081.7" y="1587.5" font-size="89.4" font-family="'Liberation Serif',serif" font-weight="bold" text-anchor="middle" >Binding Energy (eV)</text>
<text transform="translate(78,691.8) rotate(-90)" font-size="90" letter-spacing="-1" font-family="'Liberation Serif',serif" font-weight="bold" text-anchor="middle">Intensity (a.u.)</text>
<text x="128.6" y="99.6" font-size="70.4" font-family="'Liberation Serif',serif" font-weight="bold" text-anchor="start" >In/H-SSZ-39 (600 <tspan font-weight="normal">°C</tspan>)</text>
<text x="132.0" y="407.1" font-size="70.4" font-family="'Liberation Serif',serif" font-weight="bold" text-anchor="start" >In/H-SSZ-39 (550 <tspan font-weight="normal">°C</tspan>)</text>
<text x="125.9" y="745.9" font-size="70.4" font-family="'Liberation Serif',serif" font-weight="bold" text-anchor="start" >In/H-SSZ-39 (500 <tspan font-weight="normal">°C</tspan>)</text>
<text x="125.9" y="1078.0" font-size="70.4" font-family="'Liberation Serif',serif" font-weight="bold" text-anchor="start" >In/H-SSZ-39 (450 <tspan font-weight="normal">°C</tspan>)</text>
<text x="834.3" y="116.2" font-size="57.5" font-family="'Liberation Serif',serif" font-weight="bold">InO<tspan font-size="39.7" dy="-24.3" dx="-2.2">+</tspan></text>
<text x="1394.0" y="145.8" font-size="57.5" font-family="'Liberation Serif',serif" font-weight="bold">In<tspan font-size="39.7" dy="14.8">2</tspan><tspan font-size="57.5" dy="-14.8" dx="-1.5">O</tspan><tspan font-size="39.7" dy="14.8">3</tspan></text>
<text x="484.2" y="194.9" font-size="57.5" font-family="'Liberation Serif',serif" font-weight="bold">In(OH)<tspan font-size="39.7" dy="14.6" dx="-0.7">3</tspan><tspan font-size="39.7" font-weight="normal" dx="0.5" dy="2">−</tspan><tspan font-size="39.7" dx="-8.3" dy="-2">z</tspan><tspan font-size="39.7" dy="-39.2" dx="0.5">z</tspan><tspan font-size="44.4" dx="-0.6" dy="1">+</tspan></text>
<text x="783.9" y="449.0" font-size="57.5" font-family="'Liberation Serif',serif" font-weight="bold">InO<tspan font-size="39.7" dy="-24.3" dx="-2.2">+</tspan></text>
<text x="1380.9" y="509.6" font-size="57.5" font-family="'Liberation Serif',serif" font-weight="bold">In<tspan font-size="39.7" dy="14.8">2</tspan><tspan font-size="57.5" dy="-14.8" dx="-1.5">O</tspan><tspan font-size="39.7" dy="14.8">3</tspan></text>
<text x="442.1" y="525.0" font-size="57.5" font-family="'Liberation Serif',serif" font-weight="bold">In(OH)<tspan font-size="39.7" dy="14.6" dx="-0.7">3</tspan><tspan font-size="39.7" font-weight="normal" dx="0.5" dy="2">−</tspan><tspan font-size="39.7" dx="-8.3" dy="-2">z</tspan><tspan font-size="39.7" dy="-39.2" dx="0.5">z</tspan><tspan font-size="44.4" dx="-0.6" dy="1">+</tspan></text>
<text x="810.7" y="781.2" font-size="57.5" font-family="'Liberation Serif',serif" font-weight="bold">InO<tspan font-size="39.7" dy="-24.3" dx="-2.2">+</tspan></text>
<text x="1470.9" y="818.0" font-size="57.5" font-family="'Liberation Serif',serif" font-weight="bold">In<tspan font-size="39.7" dy="14.8">2</tspan><tspan font-size="57.5" dy="-14.8" dx="-1.5">O</tspan><tspan font-size="39.7" dy="14.8">3</tspan></text>
<text x="528.3" y="860.5" font-size="57.5" font-family="'Liberation Serif',serif" font-weight="bold">In(OH)<tspan font-size="39.7" dy="14.6" dx="-0.7">3</tspan><tspan font-size="39.7" font-weight="normal" dx="0.5" dy="2">−</tspan><tspan font-size="39.7" dx="-8.3" dy="-2">z</tspan><tspan font-size="39.7" dy="-39.2" dx="0.5">z</tspan><tspan font-size="44.4" dx="-0.6" dy="1">+</tspan></text>
<text x="797.2" y="1080.5" font-size="57.5" font-family="'Liberation Serif',serif" font-weight="bold">InO<tspan font-size="39.7" dy="-24.3" dx="-2.2">+</tspan></text>
<text x="1432.2" y="1161.9" font-size="57.5" font-family="'Liberation Serif',serif" font-weight="bold">In<tspan font-size="39.7" dy="14.8">2</tspan><tspan font-size="57.5" dy="-14.8" dx="-1.5">O</tspan><tspan font-size="39.7" dy="14.8">3</tspan></text>
<text x="508.4" y="1193.3" font-size="57.5" font-family="'Liberation Serif',serif" font-weight="bold">In(OH)<tspan font-size="39.7" dy="14.6" dx="-0.7">3</tspan><tspan font-size="39.7" font-weight="normal" dx="0.5" dy="2">−</tspan><tspan font-size="39.7" dx="-8.3" dy="-2">z</tspan><tspan font-size="39.7" dy="-39.2" dx="0.5">z</tspan><tspan font-size="44.4" dx="-0.6" dy="1">+</tspan></text>
<text x="1564.0" y="100.8" font-size="70" font-family="'Liberation Serif',serif" font-weight="bold">In3d<tspan font-size="48.3" dy="19.2">5/2</tspan></text>
</svg>
</body></html>
